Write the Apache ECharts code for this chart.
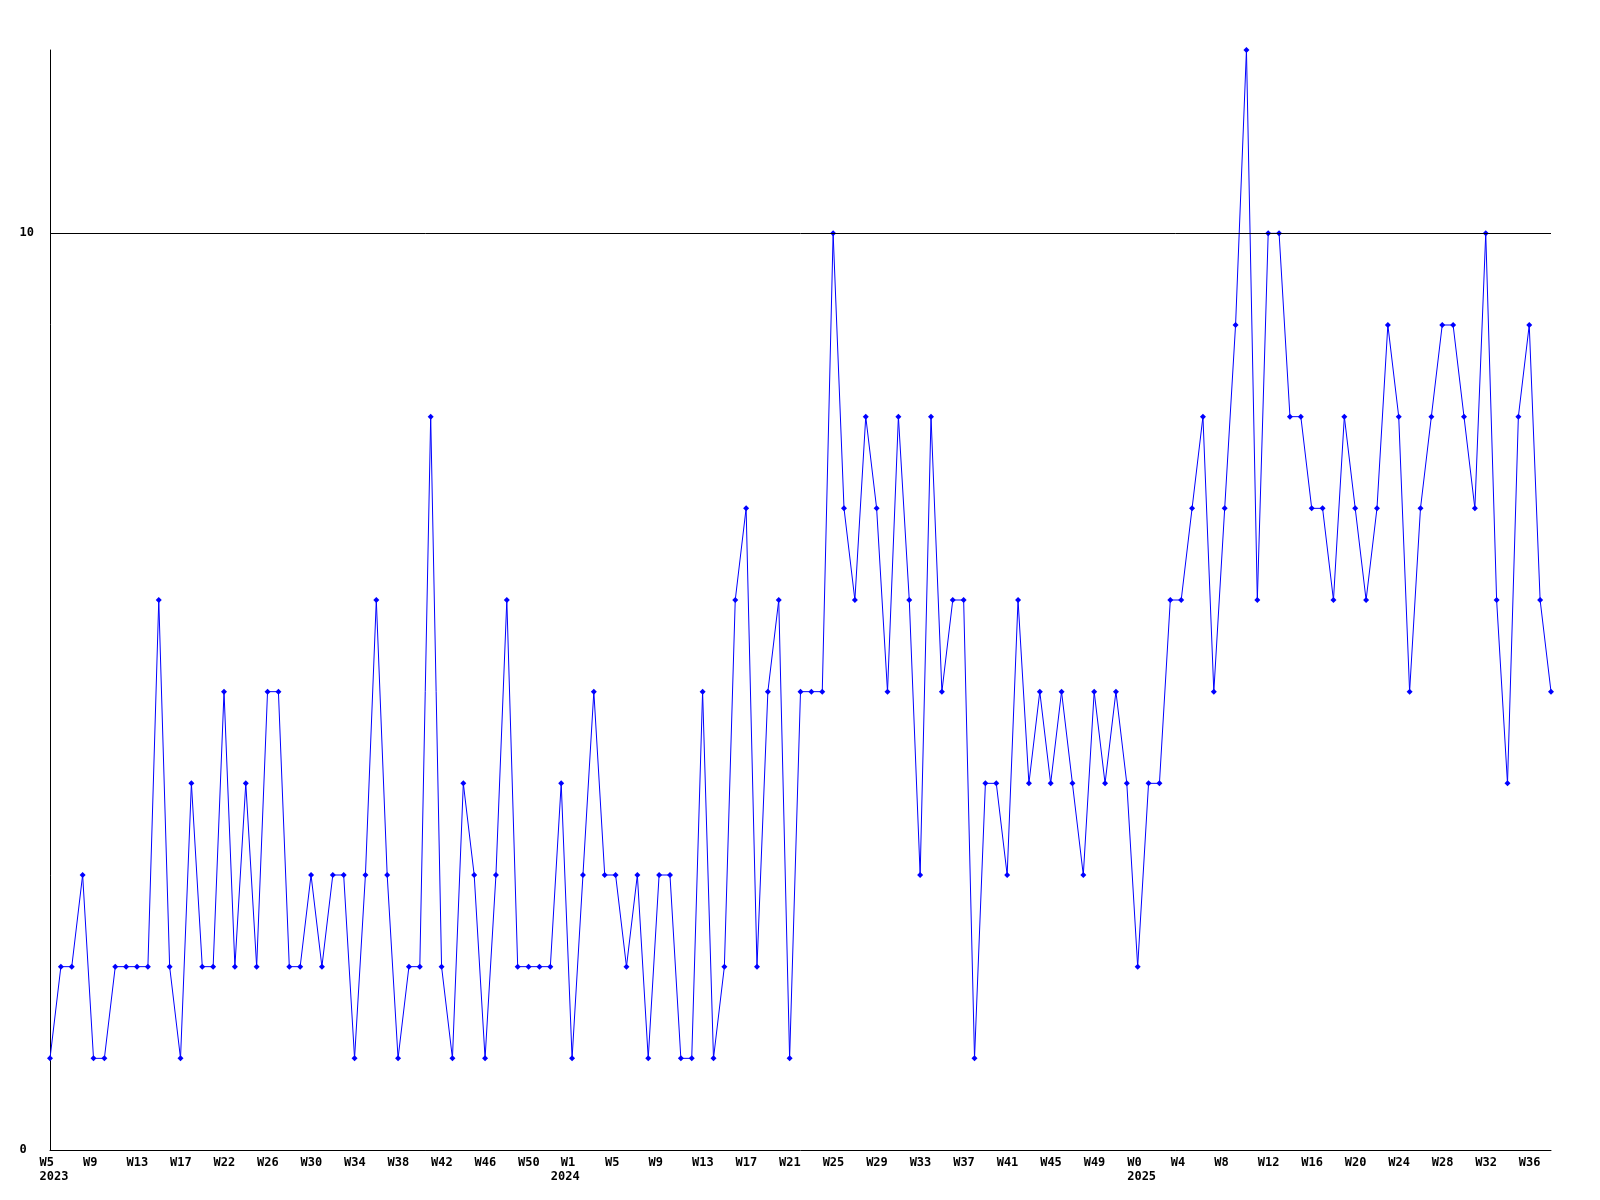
<!DOCTYPE html>
<html><head><meta charset="utf-8">
<script src="https://cdn.jsdelivr.net/npm/echarts@6/dist/echarts.min.js"></script>
<style>html,body{margin:0;padding:0;background:#fff}#c{width:1600px;height:1200px}</style>
</head><body><div id="c"></div>
<script>
// weekly values, one per point
const values = [
  1,2,2,3,1,1,2,2,2,2, 6,2,1,4,2,2,5,2,4,2, 5,5,2,2,3,2,3,3,1,3, 6,3,1,2,2,
  8,2,1,4,3,1,3,6,2,2, 2,2,4,1,3,5,3,3,2,3, 1,3,3,1,1,5,1,2,6,7, 2,5,6,1,5,
  5,5,10,7,6,8,7,5,8,6, 3,8,5,6,6,1,4,4,3,6, 4,5,4,5,4,3,5,4,5,4, 2,4,4,6,6,
  7,8,5,7,9,12,6,10,10,8, 8,7,7,6,8,7,6,7,9,8, 5,7,8,9,9,8,7,10,6,4, 8,9,6,5
];
// x tick labels, one every 4 points
const tickLabels = [
  'W5\n2023','W9','W13','W17','W22','W26','W30','W34','W38','W42','W46','W50',
  'W1\n2024','W5','W9','W13','W17','W21','W25','W29','W33','W37','W41','W45','W49',
  'W0\n2025','W4','W8','W12','W16','W20','W24','W28','W32','W36'
];
const labelStep = 4;
const yTicks = [0, 10];
const yMax = 12;
const refLine = 10;

const categories = values.map((v, i) => String(i));
const FONT = 'DejaVu Sans Mono';

const chart = echarts.init(document.getElementById('c'), null, {renderer: 'canvas'});
chart.setOption({
  animation: false,
  backgroundColor: '#ffffff',
  grid: [
    {left: 50, right: 49, top: 50, bottom: 50},
    {left: 39.5, right: 59.5, top: 50, bottom: 50}
  ],
  xAxis: [
    {
      type: 'category', gridIndex: 0, data: categories, boundaryGap: false,
      axisLine: {lineStyle: {color: '#000', width: 1}},
      axisTick: {show: false},
      axisLabel: {show: false},
      splitLine: {show: false}
    },
    {
      type: 'category', gridIndex: 1, data: categories, boundaryGap: false,
      axisLine: {show: false},
      axisTick: {show: false},
      splitLine: {show: false},
      axisLabel: {
        show: true,
        align: 'left',
        margin: 6,
        color: '#000',
        fontFamily: FONT,
        fontWeight: 'bold',
        fontSize: 12,
        lineHeight: 14,
        interval: (idx) => (idx % labelStep === 0 && idx / labelStep !== 12) || idx === 12 * labelStep - 1,
        formatter: (val, idx) => {
          if (idx === 12 * labelStep - 1) {
            const parts = tickLabels[12].split('\n');
            return '{p|' + parts[0] + '}\n' + parts[1];
          }
          if (idx % labelStep === 0) return tickLabels[idx / labelStep] || '';
          return '';
        },
        rich: {
          p: {padding: [0, 0, 0, 10], fontFamily: FONT, fontWeight: 'bold', fontSize: 12, lineHeight: 14, color: '#000'}
        }
      }
    }
  ],
  yAxis: [
    {
      type: 'value', gridIndex: 0, min: 0, max: yMax, interval: 10,
      axisLine: {show: true, lineStyle: {color: '#000', width: 1}},
      axisTick: {show: false},
      splitLine: {show: false},
      axisLabel: {
        align: 'left', margin: 30.5, color: '#000',
        fontFamily: FONT, fontWeight: 'bold', fontSize: 12,
        padding: [4, 0, 0, 0],
        formatter: (v) => yTicks.indexOf(v) >= 0 ? String(v) : ''
      }
    },
    {type: 'value', gridIndex: 1, min: 0, max: yMax, show: false}
  ],
  series: [{
    type: 'line',
    xAxisIndex: 0, yAxisIndex: 0,
    data: values,
    symbol: 'diamond',
    symbolSize: 6,
    showAllSymbol: true,
    lineStyle: {color: '#0000ff', width: 1},
    itemStyle: {color: '#0000ff'},
    markLine: {
      silent: true,
      symbol: ['none', 'none'],
      label: {show: false},
      lineStyle: {color: '#000', width: 1, type: 'solid'},
      data: [{yAxis: refLine}]
    }
  }]
});
</script>
</body></html>
